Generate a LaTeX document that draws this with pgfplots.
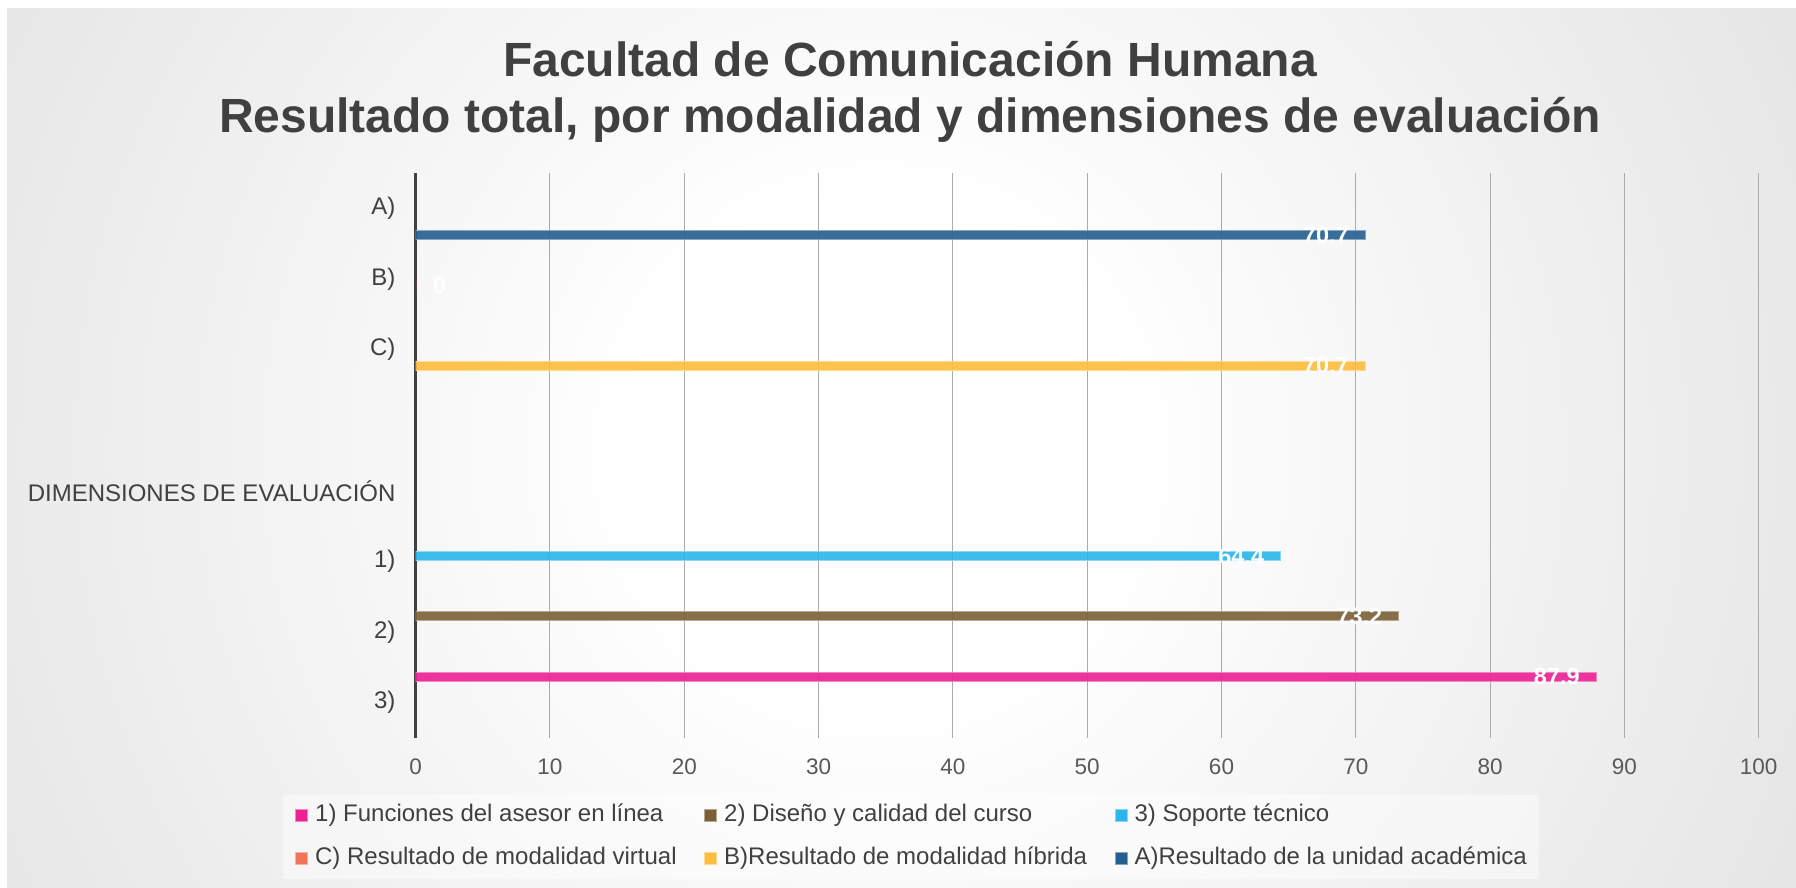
\documentclass[border=0pt]{standalone}
\usepackage{pgfplots}
\pgfplotsset{compat=1.18}
\usepackage{fontspec}
\setmainfont{Liberation Sans}
\definecolor{cPink}{HTML}{EC2193}
\definecolor{cBrown}{HTML}{7A6136}
\definecolor{cCyan}{HTML}{29B6EA}
\definecolor{cOrange}{HTML}{F0735A}
\definecolor{cYellow}{HTML}{FDBC3D}
\definecolor{cBlue}{HTML}{245F8F}
\definecolor{txt}{HTML}{404040}
\definecolor{tickc}{HTML}{595959}
\definecolor{gridc}{HTML}{ABABAB}
\definecolor{bgc}{HTML}{C3C3C3}
\pgfdeclareradialshading{bgshade}{\pgfpoint{0bp}{0bp}}{color(0bp)=(white); color(6bp)=(white); color(50bp)=(bgc)}
\pgfplotsset{
  barsty/.style={xbar, bar width=3.6pt, bar shift=0pt, fill=#1, draw=#1!55!white, line width=0.4pt, fill opacity=0.9},
  lbl/.style={nodes near coords={\pgfmathprintnumber[fixed,precision=1]{\pgfplotspointmeta}}, point meta=x,
    nodes near coords align={anchor=east},
    every node near coord/.append style={anchor=east, font=\fontsize{9.4}{10}\selectfont\bfseries, text=white, text opacity=1, fill opacity=1, inner sep=0pt, xshift=-6.4pt}},
  lblzero/.style={nodes near coords={\pgfmathprintnumber[fixed,precision=1]{\pgfplotspointmeta}}, point meta=x,
    nodes near coords align={anchor=west},
    every node near coord/.append style={anchor=west, font=\fontsize{9.4}{10}\selectfont\bfseries, text=white, text opacity=1, fill opacity=1, inner sep=0pt, xshift=6.8pt}},
}
\begin{document}
\begin{tikzpicture}
\fill[white] (0,0) rectangle (718.4pt,-355.2pt);
\begin{scope}
\clip (2.8pt,-3.6pt) rectangle (718.4pt,-355.2pt);
\shade[shading=bgshade] (352pt,-180pt) circle (410pt);
\end{scope}
\node[anchor=base, font=\fontsize{19.2}{23}\selectfont\bfseries, text=txt] at (364pt,-30.8pt) {Facultad de Comunicación Humana};
\node[anchor=base, font=\fontsize{19.2}{23}\selectfont\bfseries, text=txt] at (364pt,-53.2pt) {Resultado total, por modalidad y dimensiones de evaluación};
\begin{axis}[
  scale only axis, width=537.2pt, height=226pt,
  at={(166.28pt,-69.2pt)}, anchor=north west,
  xmin=0, xmax=100, ymin=0, ymax=8,
  xtick={0,10,...,100},
  ytick={0.5,1.5,2.5,3.5,5.5,6.5,7.5},
  yticklabels={3),2),1),DIMENSIONES DE EVALUACIÓN,C),B),A)},
  major tick length=0pt,
  xmajorgrids, major grid style={gridc, line width=0.4pt},
  separate axis lines, axis x line*=bottom, axis y line*=left,
  x axis line style={draw=none},
  y axis line style={draw=txt, line width=1.3pt},
  /pgf/number format/assume math mode=true,
  xticklabel style={font=\fontsize{9}{10}\selectfont, text=tickc, inner sep=0pt, yshift=-8pt},
  yticklabel style={font=\fontsize{9.6}{11}\selectfont, text=txt, inner sep=0pt, xshift=-7.9pt},
  legend columns=3,
  legend cell align=left,
  legend style={at={(0.3688,-0.1752)}, anchor=center, fill=white, fill opacity=0.45, text opacity=1, draw=none,
    font=\fontsize{9.6}{11}\selectfont, text=txt, inner xsep=4.8pt, inner ysep=3.2pt, row sep=7.2pt,
    nodes={inner sep=0pt, text height=0.75em, text depth=0.25em},
    /tikz/every odd column/.append style={column sep=2.8pt},
    /tikz/every even column/.append style={column sep=11pt}},
  legend image code/.code={\draw[#1, fill opacity=1] (0pt,-2.4pt) rectangle (4.8pt,2.4pt);},
]
\addplot[barsty=cPink, lbl] coordinates {(87.9,0.866)};
\addlegendentry{1) Funciones del asesor en línea}
\addplot[barsty=cBrown, lbl] coordinates {(73.2,1.725)};
\addlegendentry{2) Diseño y calidad del curso}
\addplot[barsty=cCyan, lbl] coordinates {(64.4,2.571)};
\addlegendentry{3) Soporte técnico}
\addplot[barsty=cOrange, draw=none, lblzero, forget plot] coordinates {(0,6.414)};
\addlegendimage{fill=cOrange, draw=cOrange!55!white, line width=0.4pt}
\addlegendentry{C) Resultado de modalidad virtual}
\addplot[barsty=cYellow, lbl] coordinates {(70.7,5.271)};
\addlegendentry{B)Resultado de modalidad híbrida}
\addplot[barsty=cBlue, lbl] coordinates {(70.7,7.118)};
\addlegendentry{A)Resultado de la unidad académica}
\end{axis}
\end{tikzpicture}
\end{document}
